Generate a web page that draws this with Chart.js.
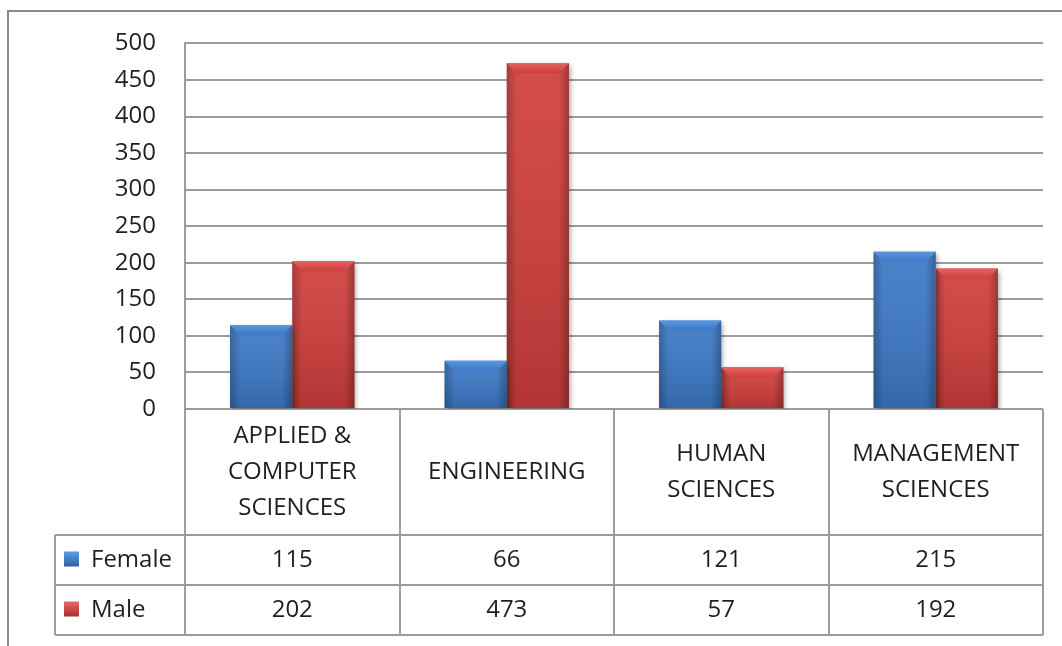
<!DOCTYPE html>
<html>
<head>
<meta charset="utf-8">
<script src="https://cdn.jsdelivr.net/npm/chart.js@4.4.1/dist/chart.umd.min.js"></script>
<style>
    html, body { margin: 0; padding: 0; background: #fff; }
    #wrap { width: 1062px; height: 646px; }
</style>
</head>
<body>
<div id="wrap"><canvas id="chart" width="1062" height="646"></canvas></div>
<script>
// Data
const categories = [
    ['APPLIED &', 'COMPUTER', 'SCIENCES'],
    ['ENGINEERING'],
    ['HUMAN', 'SCIENCES'],
    ['MANAGEMENT', 'SCIENCES']
];
const seriesNames = ['Female', 'Male'];
const femaleValues = [115, 66, 121, 215];
const maleValues = [202, 473, 57, 192];
const yMin = 0;
const yMax = 500;
const yStep = 50;

const FONT = '"Open Sans", "DejaVu Sans", sans-serif';
const TEXT = '#1f1f1f';
const LINE = '#9c9c9c';
const seriesColors = [
    { base: '#3b78c6', light: '#5b98e2', dark: '#2b5c9e' },
    { base: '#cf3d3b', light: '#e56361', dark: '#a82b29' }
];

// Outer frame of the chart object
const framePlugin = {
    id: 'frame',
    beforeDraw(chart) {
        const ctx = chart.ctx;
        ctx.save();
        ctx.fillStyle = '#fff';
        ctx.fillRect(0, 0, chart.width, chart.height);
        ctx.strokeStyle = '#8a8a8a';
        ctx.lineWidth = 2;
        ctx.strokeRect(8, 11, chart.width + 20, chart.height + 20);
        ctx.restore();
    }
};

// Drop shadow under bars, then bevel overlay on top of them
const bevelPlugin = {
    id: 'bevel',
    beforeDatasetsDraw(chart) {
        const ctx = chart.ctx;
        ctx.save();
        ctx.shadowColor = 'rgba(0,0,0,0.35)';
        ctx.shadowBlur = 5;
        ctx.shadowOffsetX = 2;
        ctx.shadowOffsetY = 2;
    },
    afterDatasetsDraw(chart) {
        const ctx = chart.ctx;
        ctx.restore();
        ctx.save();
        chart.data.datasets.forEach((ds, di) => {
            const meta = chart.getDatasetMeta(di);
            const col = seriesColors[di];
            meta.data.forEach(bar => {
                const l = bar.x - bar.width / 2;
                const r = bar.x + bar.width / 2;
                const t = bar.y;
                const b = bar.base;
                const bev = Math.min(10, (b - t) / 2);

                // vertical shading
                const g = ctx.createLinearGradient(0, t, 0, b);
                g.addColorStop(0, 'rgba(255,255,255,0.08)');
                g.addColorStop(1, 'rgba(0,0,0,0.14)');
                ctx.fillStyle = g;
                ctx.fillRect(l, t, r - l, b - t);

                // darker side edges
                const gl = ctx.createLinearGradient(l, 0, l + bev, 0);
                gl.addColorStop(0, 'rgba(0,0,0,0.22)');
                gl.addColorStop(1, 'rgba(0,0,0,0)');
                ctx.fillStyle = gl;
                ctx.beginPath();
                ctx.moveTo(l, t); ctx.lineTo(l + bev, t + bev); ctx.lineTo(l + bev, b); ctx.lineTo(l, b);
                ctx.closePath(); ctx.fill();
                const gr = ctx.createLinearGradient(r, 0, r - bev, 0);
                gr.addColorStop(0, 'rgba(0,0,0,0.25)');
                gr.addColorStop(1, 'rgba(0,0,0,0)');
                ctx.fillStyle = gr;
                ctx.beginPath();
                ctx.moveTo(r, t); ctx.lineTo(r - bev, t + bev); ctx.lineTo(r - bev, b); ctx.lineTo(r, b);
                ctx.closePath(); ctx.fill();

                // light top bevel
                const gt = ctx.createLinearGradient(0, t, 0, t + bev);
                gt.addColorStop(0, col.light);
                gt.addColorStop(1, col.base);
                ctx.fillStyle = gt;
                ctx.beginPath();
                ctx.moveTo(l, t); ctx.lineTo(r, t); ctx.lineTo(r - bev, t + bev); ctx.lineTo(l + bev, t + bev);
                ctx.closePath(); ctx.fill();
            });
        });
        ctx.restore();
    }
};

// Data table under the plot area, columns follow the x scale
const tablePlugin = {
    id: 'dataTable',
    afterDraw(chart) {
        const ctx = chart.ctx;
        const area = chart.chartArea;
        const xs = chart.scales.x;
        const n = categories.length;
        const colW = (area.right - area.left) / n;
        const headerBottom = area.bottom + 126;
        const rowH = 50;
        const legendLeft = 55;
        const tableBottom = headerBottom + rowH * seriesNames.length;

        ctx.save();
        ctx.strokeStyle = LINE;
        ctx.lineWidth = 2;
        ctx.beginPath();
        for (let i = 0; i <= n; i++) {
            const px = Math.round(area.left + i * colW);
            ctx.moveTo(px, area.bottom);
            ctx.lineTo(px, tableBottom);
        }
        ctx.moveTo(legendLeft, headerBottom);
        ctx.lineTo(legendLeft, tableBottom);
        for (let r = 0; r <= seriesNames.length; r++) {
            const py = headerBottom + r * rowH;
            ctx.moveTo(legendLeft, py);
            ctx.lineTo(area.right, py);
        }
        ctx.stroke();

        ctx.fillStyle = TEXT;
        ctx.font = '24px ' + FONT;
        ctx.textAlign = 'center';
        ctx.textBaseline = 'middle';
        const lineH = 36;
        const headerMid = (area.bottom + headerBottom) / 2;
        categories.forEach((lines, i) => {
            const cx = xs.getPixelForValue(i);
            lines.forEach((txt, k) => {
                ctx.fillText(txt, cx, headerMid + (k - (lines.length - 1) / 2) * lineH);
            });
        });

        const series = [femaleValues, maleValues];
        series.forEach((vals, r) => {
            const cy = headerBottom + r * rowH + rowH / 2;
            ctx.textAlign = 'center';
            ctx.fillStyle = TEXT;
            vals.forEach((v, i) => ctx.fillText(String(v), xs.getPixelForValue(i), cy));

            // legend key
            const col = seriesColors[r];
            const kx = 64, ks = 15;
            const kg = ctx.createLinearGradient(0, cy - ks / 2, 0, cy + ks / 2);
            kg.addColorStop(0, col.light);
            kg.addColorStop(1, col.dark);
            ctx.fillStyle = kg;
            ctx.fillRect(kx, cy - ks / 2 - 1, ks, ks);
            ctx.fillStyle = TEXT;
            ctx.textAlign = 'left';
            ctx.fillText(seriesNames[r], 91, cy);
        });
        ctx.restore();
    }
};

new Chart(document.getElementById('chart'), {
    type: 'bar',
    data: {
        labels: categories,
        datasets: [
            {
                label: seriesNames[0],
                data: femaleValues,
                backgroundColor: seriesColors[0].base,
                borderWidth: 0
            },
            {
                label: seriesNames[1],
                data: maleValues,
                backgroundColor: seriesColors[1].base,
                borderWidth: 0
            }
        ]
    },
    options: {
        responsive: false,
        animation: false,
        events: [],
        layout: {
            padding: { top: 42, right: 19, bottom: 237, left: 0 }
        },
        datasets: {
            bar: {
                categoryPercentage: 0.58,
                barPercentage: 1
            }
        },
        plugins: {
            legend: { display: false },
            tooltip: { enabled: false }
        },
        scales: {
            x: {
                display: false
            },
            y: {
                min: yMin,
                max: yMax,
                afterFit: (scale) => { scale.width = 185; },
                ticks: {
                    stepSize: yStep,
                    padding: 29,
                    color: TEXT,
                    font: { family: FONT, size: 24 }
                },
                grid: {
                    color: LINE,
                    lineWidth: 2,
                    drawTicks: false
                },
                border: {
                    display: true,
                    color: LINE,
                    width: 2
                }
            }
        }
    },
    plugins: [framePlugin, bevelPlugin, tablePlugin]
});
</script>
</body>
</html>
